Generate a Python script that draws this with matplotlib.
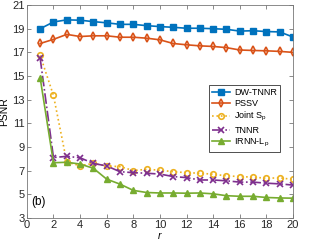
import matplotlib
matplotlib.use("Agg")
import matplotlib.pyplot as plt

r = list(range(1, 21))
dw_tnnr = [19.0, 19.57, 19.75, 19.72, 19.6, 19.5, 19.37, 19.37, 19.26, 19.18,
           19.12, 19.04, 19.04, 19.0, 18.95, 18.8, 18.83, 18.76, 18.73, 18.3]
pssv = [17.75, 18.1, 18.52, 18.34, 18.4, 18.4, 18.28, 18.28, 18.2, 18.06,
        17.75, 17.64, 17.55, 17.5, 17.4, 17.2, 17.16, 17.13, 17.08, 17.0]
joint_sp = [16.75, 13.35, 7.7, 7.41, 7.6, 7.39, 7.33, 7.0, 7.1, 7.03,
            6.9, 6.82, 6.77, 6.69, 6.55, 6.49, 6.44, 6.35, 6.38, 6.25]
tnnr = [16.5, 8.1, 8.2, 8.08, 7.6, 7.39, 6.9, 6.82, 6.77, 6.7,
        6.49, 6.4, 6.2, 6.2, 6.13, 6.02, 6.02, 5.93, 5.87, 5.77]
irnn_lp = [14.84, 7.66, 7.7, 7.55, 7.19, 6.27, 5.85, 5.32, 5.14, 5.1,
           5.1, 5.08, 5.1, 5.03, 4.87, 4.82, 4.82, 4.72, 4.68, 4.66]

plt.rcParams['font.family'] = ['Liberation Sans', 'DejaVu Sans']
plt.rcParams['font.size'] = 8

fig = plt.figure(figsize=(3.16, 2.42), dpi=100)
ax = fig.add_axes([0.085, 0.1, 0.842, 0.879])

ax.plot(r, dw_tnnr, '-s', color='#0072BD', lw=1.2, ms=3.8, label='DW-TNNR')
ax.plot(r, pssv, '-d', color='#D95319', lw=1.2, ms=4, mfc='none', mew=1.2, label='PSSV')
ax.plot(r, joint_sp, ':o', color='#EDB120', lw=1.2, ms=4, mfc='none', mew=1.2, label='Joint S$_\\mathregular{p}$')
ax.plot(r, tnnr, '-.x', color='#7E2F8E', lw=1.2, ms=4, mew=1.2, label='TNNR')
ax.plot(r, irnn_lp, '-^', color='#77AC30', lw=1.2, ms=5, label='IRNN-L$_\\mathregular{p}$')

ax.set_xlim(0, 20)
ax.set_ylim(3, 21)
ax.set_xticks(range(0, 21, 2))
ax.set_yticks(range(3, 22, 2))
ax.tick_params(direction='in', length=3, top=True, right=True, width=0.6, pad=1.5,
               colors='#777777', labelcolor='#262626')
for s in ax.spines.values():
    s.set_linewidth(0.6)
    s.set_color('#777777')

ax.set_xlabel('r', style='italic', fontsize=7.5)
ax.set_ylabel('PSNR', fontsize=7.5)
ax.xaxis.set_label_coords(0.5, -0.062)
ax.yaxis.set_label_coords(-0.066, 0.5)
ax.text(0.3, 4.1, '(b)', fontsize=8.5)

leg = ax.legend(loc='upper right', bbox_to_anchor=(0.968, 0.645), fontsize=6.5,
                fancybox=False, edgecolor='#333333', framealpha=1,
                handlelength=2.0, borderpad=0.3, labelspacing=0.25, handletextpad=0.5)
leg.get_frame().set_linewidth(0.6)

fig.savefig('out.png', dpi=100)
